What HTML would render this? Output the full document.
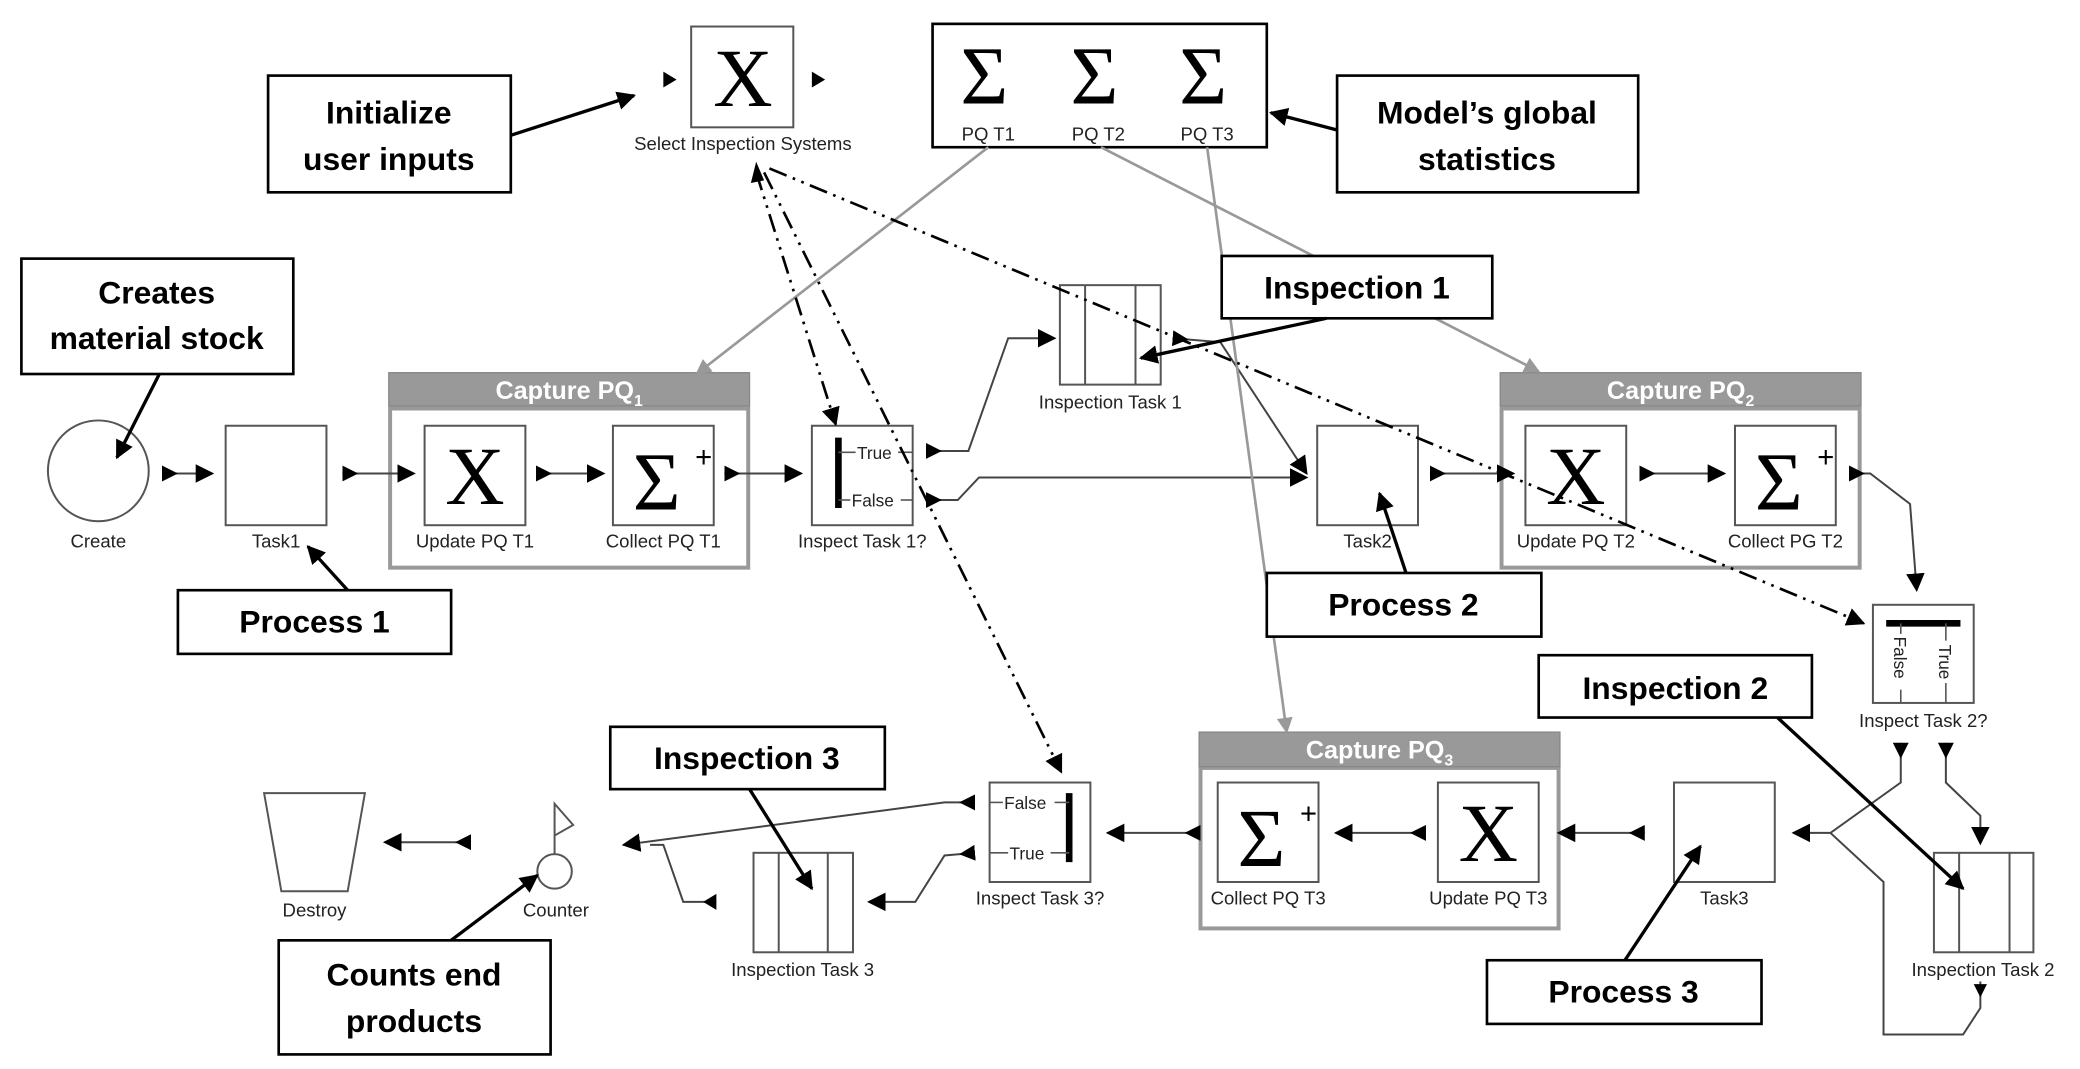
<!DOCTYPE html>
<html><head><meta charset="utf-8"><style>
html,body{margin:0;padding:0;background:#fff;}
svg{display:block;}
.lbl{font-family:"Liberation Sans Narrow","Liberation Sans",sans-serif;font-size:14px;fill:#222;text-anchor:middle;}
.co{font-family:"Liberation Sans Narrow","Liberation Sans",sans-serif;font-weight:bold;font-size:24px;fill:#000;text-anchor:middle;}
.hd{font-family:"Liberation Sans Narrow","Liberation Sans",sans-serif;font-weight:bold;font-size:19px;fill:#fff;text-anchor:middle;}
.big{font-family:"Liberation Serif",serif;font-size:62px;fill:#000;text-anchor:middle;}
.sm{font-family:"Liberation Sans Narrow","Liberation Sans",sans-serif;font-size:13px;fill:#222;}
</style></head><body>
<svg width="2080" height="1069" viewBox="0 0 1568 806" xmlns="http://www.w3.org/2000/svg">
<defs>
<marker id="a" viewBox="0 0 10 10" refX="9" refY="5" markerWidth="7" markerHeight="7" orient="auto" markerUnits="userSpaceOnUse"><path d="M0,0L10,5L0,10z" fill="#000"/></marker>
<marker id="ab" viewBox="0 0 10 10" refX="9" refY="5" markerWidth="14" markerHeight="14" orient="auto" markerUnits="userSpaceOnUse"><path d="M0,0L10,5L0,10z" fill="#000"/></marker>
<marker id="st" viewBox="0 0 10 10" refX="0" refY="5" markerWidth="12" markerHeight="12" orient="auto" markerUnits="userSpaceOnUse"><path d="M0,0L10,5L0,10z" fill="#000"/></marker>
<marker id="ag" viewBox="0 0 10 10" refX="9" refY="5" markerWidth="12" markerHeight="12" orient="auto" markerUnits="userSpaceOnUse"><path d="M0,0L10,5L0,10z" fill="#999"/></marker>
</defs>
<g fill="#fff" stroke="#555" stroke-width="1.5">
<rect x="521" y="20" width="77" height="76"/>
<circle cx="74" cy="355" r="38"/>
<rect x="170" y="321" width="76" height="75"/>
<rect x="320" y="321" width="76" height="75"/>
<rect x="462" y="321" width="76" height="75"/>
<rect x="612" y="321" width="76" height="75"/>
<rect x="799" y="215" width="76" height="75"/>
<rect x="993" y="321" width="76" height="75"/>
<rect x="1150" y="321" width="76" height="75"/>
<rect x="1308" y="321" width="76" height="75"/>
<rect x="1412" y="456" width="76" height="74"/>
<rect x="1458" y="643" width="75" height="75"/>
<rect x="1262" y="590" width="76" height="75"/>
<rect x="918" y="590" width="76" height="75"/>
<rect x="1084" y="590" width="76" height="75"/>
<rect x="746" y="590" width="76" height="75"/>
<rect x="568" y="643" width="75" height="75"/>
<circle cx="418" cy="657" r="13"/>
<path d="M199,598L275,598L262,672L212,672z"/>
</g>
<g stroke="#555" stroke-width="1.5" fill="none">
<line x1="818" y1="215" x2="818" y2="290"/><line x1="856" y1="215" x2="856" y2="290"/>
<line x1="1477" y1="643" x2="1477" y2="718"/><line x1="1515" y1="643" x2="1515" y2="718"/>
<line x1="587" y1="643" x2="587" y2="718"/><line x1="624" y1="643" x2="624" y2="718"/>
<path d="M418,644L418,606L432,622L418,630"/>
</g>
<rect x="703" y="18" width="252" height="93" fill="#fff" stroke="#000" stroke-width="2"/>
<text class="big" x="742" y="78">Σ</text><text class="big" x="825" y="78">Σ</text><text class="big" x="907" y="78">Σ</text>
<text class="lbl" x="745" y="106">PQ T1</text><text class="lbl" x="828" y="106">PQ T2</text><text class="lbl" x="910" y="106">PQ T3</text>
<text class="big" x="560" y="80">X</text>
<text class="big" x="358" y="380">X</text><text class="big" x="1188" y="380">X</text><text class="big" x="1122" y="649">X</text>
<text class="big" x="495" y="384">Σ</text><text x="524" y="352" font-size="22" font-family="Liberation Sans">+</text>
<text class="big" x="1341" y="384">Σ</text><text x="1370" y="352" font-size="22" font-family="Liberation Sans">+</text>
<text class="big" x="951" y="653">Σ</text><text x="980" y="621" font-size="22" font-family="Liberation Sans">+</text>
<g fill="none" stroke="#999" stroke-width="3">
<rect x="294" y="308" width="270" height="120"/><rect x="1132" y="308" width="270" height="120"/><rect x="905" y="579" width="270" height="121"/>
</g>
<g fill="#999" stroke="#888"><rect x="293" y="281" width="272" height="25"/><rect x="1131" y="281" width="272" height="25"/><rect x="904" y="552" width="272" height="26"/></g>
<text class="hd" x="429" y="301">Capture PQ<tspan font-size="12" dy="5">1</tspan></text>
<text class="hd" x="1267" y="301">Capture PQ<tspan font-size="12" dy="5">2</tspan></text>
<text class="hd" x="1040" y="572">Capture PQ<tspan font-size="12" dy="5">3</tspan></text>
<g stroke="#000"><line x1="632" y1="330" x2="632" y2="383" stroke-width="5"/><line x1="806" y1="598" x2="806" y2="650" stroke-width="5"/><line x1="1422" y1="470" x2="1478" y2="470" stroke-width="5"/></g>
<g stroke="#555" stroke-width="1.2">
<line x1="632" y1="341" x2="645" y2="341"/><line x1="677" y1="341" x2="688" y2="341"/>
<line x1="632" y1="377" x2="641" y2="377"/><line x1="679" y1="377" x2="688" y2="377"/>
<line x1="746" y1="605" x2="756" y2="605"/><line x1="795" y1="605" x2="806" y2="605"/>
<line x1="746" y1="643" x2="760" y2="643"/><line x1="792" y1="643" x2="806" y2="643"/>
<line x1="1433" y1="470" x2="1433" y2="478"/><line x1="1433" y1="520" x2="1433" y2="530"/>
<line x1="1467" y1="470" x2="1467" y2="483"/><line x1="1467" y1="515" x2="1467" y2="530"/>
</g>
<text class="sm" x="646" y="346">True</text><text class="sm" x="642" y="382">False</text>
<text class="sm" x="757" y="610">False</text><text class="sm" x="761" y="648">True</text>
<text class="sm" transform="translate(1428,480) rotate(90)">False</text>
<text class="sm" transform="translate(1462,486) rotate(90)">True</text>
<g class="lbl">
<text x="560" y="113">Select Inspection Systems</text>
<text x="74" y="413">Create</text><text x="208" y="413">Task1</text><text x="358" y="413">Update PQ T1</text><text x="500" y="413">Collect PQ T1</text><text x="650" y="413">Inspect Task 1?</text>
<text x="837" y="308">Inspection Task 1</text><text x="1031" y="413">Task2</text><text x="1188" y="413">Update PQ T2</text><text x="1346" y="413">Collect PG T2</text>
<text x="1450" y="548">Inspect Task 2?</text><text x="1495" y="736">Inspection Task 2</text><text x="1300" y="682">Task3</text>
<text x="956" y="682">Collect PQ T3</text><text x="1122" y="682">Update PQ T3</text><text x="784" y="682">Inspect Task 3?</text>
<text x="605" y="736">Inspection Task 3</text><text x="419" y="691">Counter</text><text x="237" y="691">Destroy</text>
</g>
<g stroke="#444" stroke-width="1.5" fill="none" marker-end="url(#ab)" marker-start="url(#st)">
<line x1="122" y1="357" x2="160" y2="357"/>
<line x1="258" y1="357" x2="312" y2="357"/>
<line x1="404" y1="357" x2="455" y2="357"/>
<line x1="546" y1="357" x2="604" y2="357"/>
<path d="M698,340L730,340L760,255L795,255"/>
<path d="M698,377L722,377L738,360L985,360"/>
<path d="M884,255L920,258L985,357"/>
<line x1="1078" y1="357" x2="1141" y2="357"/>
<line x1="1236" y1="357" x2="1300" y2="357"/>
<path d="M1394,357L1410,357L1440,380L1445,445"/>
<path d="M1433,560L1433,590L1380,628L1352,628"/>
<path d="M1467,560L1467,590L1493,615L1493,636"/>
<line x1="1240" y1="628" x2="1175" y2="628"/>
<line x1="1075" y1="628" x2="1007" y2="628"/>
<line x1="905" y1="628" x2="835" y2="628"/>
<path d="M735,605L712,605L470,637"/>
<path d="M735,643L712,645L690,680L655,680"/>
<line x1="355" y1="635" x2="290" y2="635"/>
</g>
<g stroke="#444" stroke-width="1.5" fill="none">
<path d="M1380,628L1420,665L1420,780L1480,780L1493,760L1493,740"/>
<path d="M490,637L500,637L515,680L540,680"/>
</g>
<g fill="#000">
<path d="M500,54L510,60L500,66z"/><path d="M612,54L622,60L612,66z"/>
<path d="M1488,742L1493,752L1498,742z"/>
<path d="M540,674L530,680L540,686z"/>
</g>
<g stroke="#999" stroke-width="2" fill="none" marker-end="url(#ag)">
<line x1="745" y1="111" x2="525" y2="282"/>
<line x1="830" y1="111" x2="1160" y2="280"/>
<line x1="910" y1="111" x2="970" y2="552"/>
</g>
<g stroke="#000" stroke-width="2" fill="none" stroke-dasharray="14,5,2,5,2,5" marker-end="url(#ab)">
<line x1="570" y1="130" x2="630" y2="320"/>
<line x1="576" y1="130" x2="800" y2="582"/>
<line x1="580" y1="127" x2="1405" y2="470"/>
</g>
<path d="M570,122L566,138L576,136z" fill="#000"/>
<g fill="#fff" stroke="#000" stroke-width="2">
<rect x="202" y="57" width="183" height="88"/><rect x="1008" y="57" width="227" height="88"/>
<rect x="16" y="195" width="205" height="87"/><rect x="921" y="193" width="204" height="47"/>
<rect x="134" y="445" width="206" height="48"/><rect x="955" y="432" width="207" height="48"/>
<rect x="460" y="548" width="207" height="47"/><rect x="210" y="709" width="205" height="86"/>
<rect x="1121" y="724" width="207" height="48"/><rect x="1160" y="494" width="206" height="47"/>
</g>
<g class="co">
<text x="293" y="93">Initialize</text><text x="293" y="128">user inputs</text>
<text x="1121" y="93">Model’s global</text><text x="1121" y="128">statistics</text>
<text x="118" y="229">Creates</text><text x="118" y="263">material stock</text>
<text x="1023" y="225">Inspection 1</text><text x="237" y="477">Process 1</text><text x="1058" y="464">Process 2</text>
<text x="563" y="580">Inspection 3</text><text x="312" y="743">Counts end</text><text x="312" y="778">products</text>
<text x="1224" y="756">Process 3</text><text x="1263" y="527">Inspection 2</text>
</g>
<g stroke="#000" stroke-width="2.5" fill="none" marker-end="url(#ab)">
<line x1="385" y1="102" x2="478" y2="72"/>
<line x1="1008" y1="98" x2="958" y2="85"/>
<line x1="120" y1="282" x2="88" y2="345"/>
<line x1="262" y1="445" x2="232" y2="412"/>
<line x1="1000" y1="240" x2="860" y2="270"/>
<line x1="1060" y1="432" x2="1040" y2="372"/>
<line x1="565" y1="595" x2="612" y2="670"/>
<line x1="340" y1="709" x2="405" y2="660"/>
<line x1="1225" y1="724" x2="1282" y2="638"/>
<line x1="1340" y1="541" x2="1480" y2="670"/>
</g>
</svg>
</body></html>
